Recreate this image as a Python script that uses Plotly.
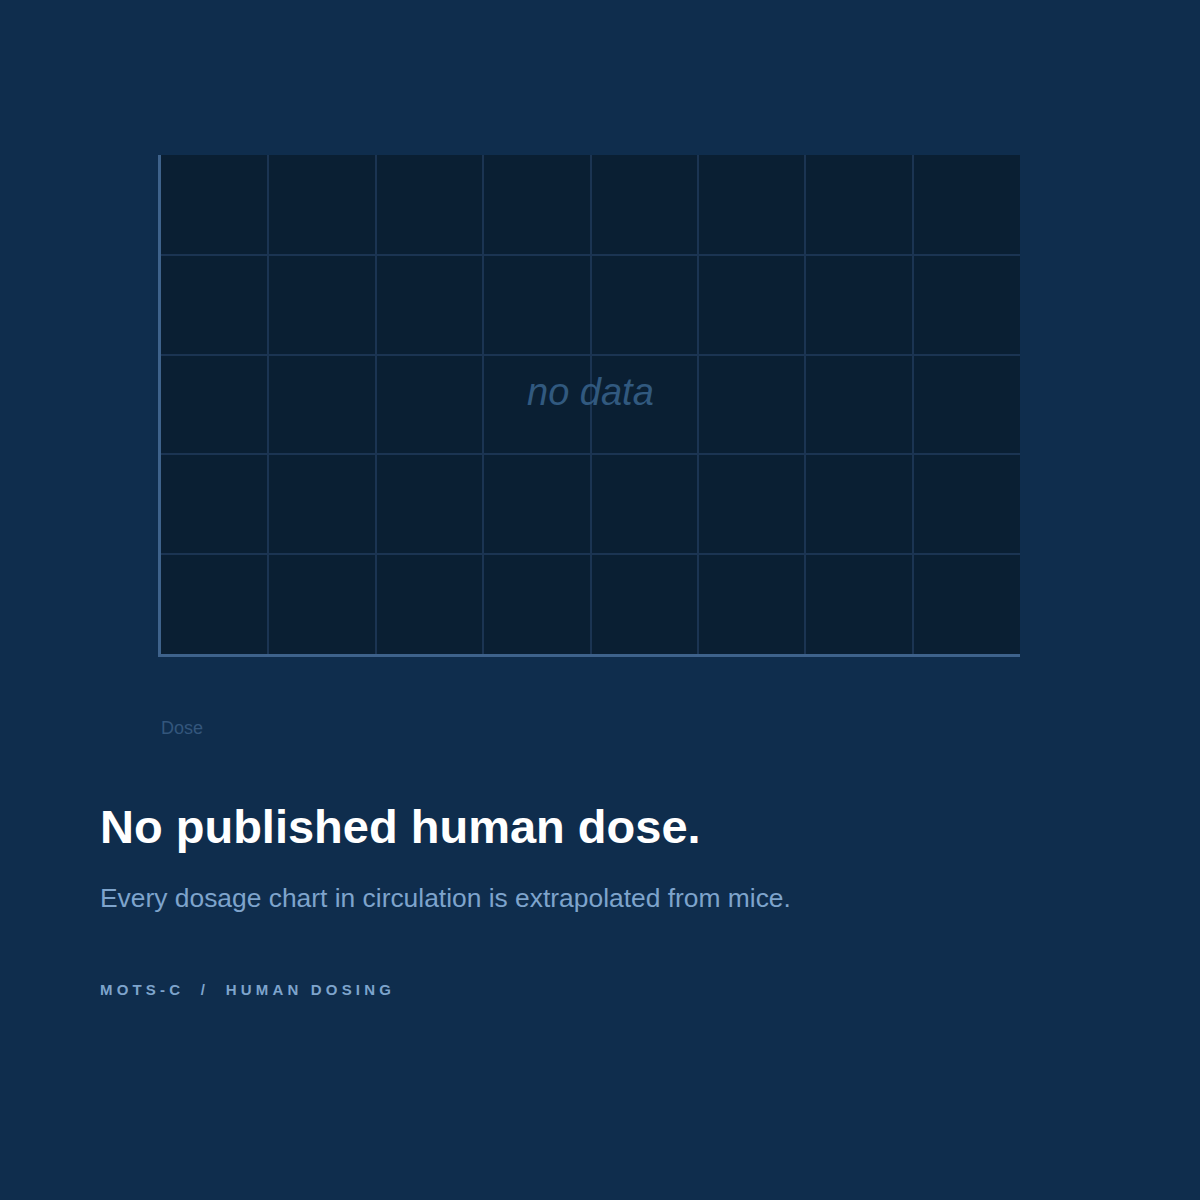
import plotly.graph_objects as go

# no published human data, so the series stays empty
dose_values = []
response_values = []

x_range = [0, 8]
y_range = [0, 5]

title_text = "No published human dose."
subtitle_text = "Every dosage chart in circulation is extrapolated from mice."
footer_parts = ["MOTS-C", "/", "HUMAN DOSING"]
x_label = "Dose"
empty_label = "no data"

BG = "#0f2d4d"
PLOT_BG = "#0a1f33"
GRID = "#1b3452"
AXIS = "#3e628b"
FONT = "Liberation Sans, Arial, sans-serif"

NB = "\u00a0"


def spaced(word):
    # fake letter spacing with non-breaking spaces
    return NB.join(word)


footer_text = (NB * 5).join(
    (NB * 3).join(spaced(w) for w in part.split(" ")) for part in footer_parts
)

fig = go.Figure()
fig.add_trace(go.Scatter(x=dose_values, y=response_values, mode="lines",
                         line=dict(color="#7ea4cc", width=3), showlegend=False))

fig.update_layout(
    width=1200, height=1200,
    margin=dict(l=161, r=180, t=155, b=546),
    paper_bgcolor=BG,
    plot_bgcolor=PLOT_BG,
    font=dict(family=FONT),
    showlegend=False,
)

fig.update_xaxes(range=x_range, dtick=1, showgrid=True, gridcolor=GRID, gridwidth=2,
                 zeroline=False, showticklabels=False, ticks="",
                 showline=True, linecolor=AXIS, linewidth=3, fixedrange=True)
fig.update_yaxes(range=y_range, dtick=1, showgrid=True, gridcolor=GRID, gridwidth=2,
                 zeroline=False, showticklabels=False, ticks="",
                 showline=True, linecolor=AXIS, linewidth=3, fixedrange=True)


# pixel positions converted to paper coords
def px_x(p):
    return (p - 161) / 858


def px_y(p):
    return (654 - p) / 499


# centre label inside the empty plot
fig.add_annotation(x=0.5, y=0.525, xref="x domain", yref="y domain",
                   text="<i>" + empty_label + "</i>", showarrow=False,
                   font=dict(size=38, color="#31597f", family=FONT))

# axis caption under the plot
fig.add_annotation(x=px_x(159), y=px_y(728), xref="paper", yref="paper", text=x_label,
                   showarrow=False, xanchor="left", yanchor="middle",
                   font=dict(size=18, color="#33567c", family=FONT))

# text block below the chart
fig.add_annotation(x=px_x(98), y=px_y(826), xref="paper", yref="paper",
                   text="<b>" + title_text + "</b>", showarrow=False,
                   xanchor="left", yanchor="middle",
                   font=dict(size=47, color="#ffffff", family=FONT))
fig.add_annotation(x=px_x(98), y=px_y(898), xref="paper", yref="paper",
                   text=subtitle_text, showarrow=False,
                   xanchor="left", yanchor="middle",
                   font=dict(size=26.4, color="#7ea4cc", family=FONT))
fig.add_annotation(x=px_x(98), y=px_y(989), xref="paper", yref="paper",
                   text="<b>" + footer_text + "</b>", showarrow=False,
                   xanchor="left", yanchor="middle",
                   font=dict(size=15, color="#7ea4cc", family=FONT))

fig.write_html("out.html", config={"displayModeBar": False},
               post_script="document.body.style.margin='0';")
